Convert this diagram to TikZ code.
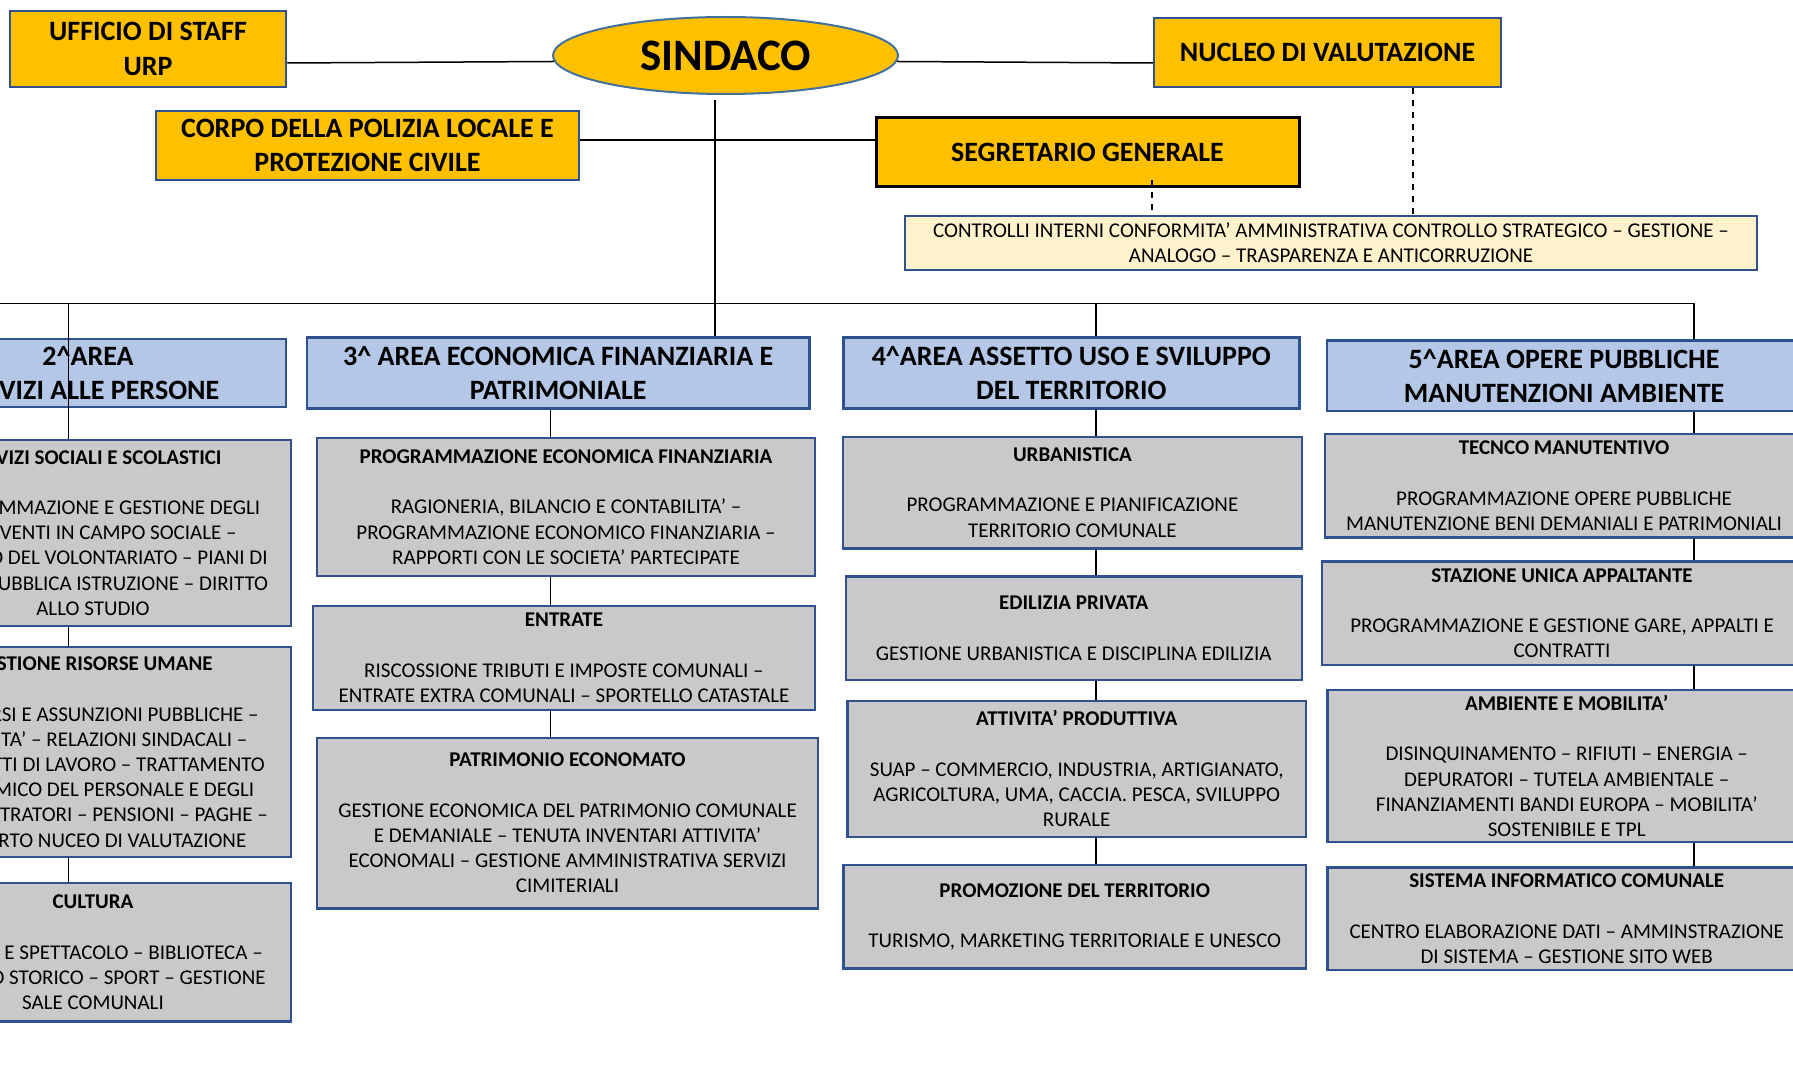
\documentclass[tikz,border=0pt]{standalone}
\usepackage{fontspec}
\setmainfont{Carlito}
\usetikzlibrary{shapes.geometric}
\definecolor{gold}{HTML}{FFC000}
\definecolor{bordo}{HTML}{2F528F}
\definecolor{bordoel}{HTML}{41719C}
\definecolor{areab}{HTML}{B4C7E7}
\definecolor{grigio}{HTML}{C9C9C9}
\definecolor{crema}{HTML}{FFF2CC}
\newcommand{\mytitle}[1]{\textbf{#1}\\[25.2pt]}
\begin{document}
\begin{tikzpicture}[x=1pt,y=-1pt,
  ybox/.style={rectangle, inner sep=0pt, align=center, draw=bordo, fill=gold, line width=2.5pt, font=\bfseries\fontsize{28}{34.5}\selectfont},
  abox/.style={rectangle, inner sep=0pt, align=center, draw=bordo, fill=areab, line width=2.4pt, font=\bfseries\fontsize{28}{33.8}\selectfont},
  sbox/.style={rectangle, inner sep=0pt, align=center, draw=bordo, fill=grigio, line width=2.4pt, font=\fontsize{21}{25.2}\selectfont},
  conn/.style={line width=1.5pt, draw=black},
  dashline/.style={line width=1.5pt, draw=black, dash pattern=on 6pt off 6pt}]
\fill[white] (0,0) rectangle (1793,1078);
\useasboundingbox (0,0) rectangle (1793,1078);

% top level
\node[ybox, minimum width=276pt, minimum height=76pt] (ufficio) at (148,49) {UFFICIO DI STAFF\\URP};
\node[ellipse, draw=bordoel, fill=gold, line width=2pt, inner sep=0pt, minimum width=345pt, minimum height=77pt, font=\bfseries\fontsize{45}{54}\selectfont] (sindaco) at (725.5,55.5) {SINDACO};
\node[ybox, minimum width=347pt, minimum height=69pt] (nucleo) at (1327.5,52.5) {NUCLEO DI VALUTAZIONE};
\node[ybox, minimum width=423pt, minimum height=69pt] (corpo) at (367.5,145.5) {CORPO DELLA POLIZIA LOCALE E\\PROTEZIONE CIVILE};
\node[ybox, draw=black, line width=3pt, minimum width=423pt, minimum height=69pt] (segretario) at (1087.5,152.5) {SEGRETARIO GENERALE};
\node[rectangle, inner sep=0pt, align=center, draw=bordo, fill=crema, line width=2.4pt, font=\fontsize{21}{25.2}\selectfont, minimum width=852pt, minimum height=54pt] (controlli) at (1331,243) {CONTROLLI INTERNI CONFORMITA’ AMMINISTRATIVA CONTROLLO STRATEGICO – GESTIONE –\\ANALOGO – TRASPARENZA E ANTICORRUZIONE};

% areas
\node[abox, minimum width=396pt, minimum height=67.7pt] (a2) at (88,372.9) {2\textasciicircum AREA\\SERVIZI ALLE PERSONE};
\node[abox, minimum width=502.7pt, minimum height=71pt] (a3) at (558.2,372.8) {3\textasciicircum\ AREA ECONOMICA FINANZIARIA E\\PATRIMONIALE};
\node[abox, minimum width=456pt, minimum height=71pt] (a4) at (1071.3,372.8) {4\textasciicircum AREA ASSETTO USO E SVILUPPO\\DEL TERRITORIO};
\node[abox, minimum width=473.7pt, minimum height=70.3pt] (a5) at (1564,375.8) {5\textasciicircum AREA OPERE PUBBLICHE\\MANUTENZIONI AMBIENTE};

% column 2
\node[sbox, minimum width=396pt, minimum height=185.7pt] (s21) at (93,532.9) {\mytitle{SERVIZI SOCIALI E SCOLASTICI}PROGRAMMAZIONE E GESTIONE DEGLI\\INTERVENTI IN CAMPO SOCIALE –\\REGISTRO DEL VOLONTARIATO – PIANI DI\\ZONA – PUBBLICA ISTRUZIONE – DIRITTO\\ALLO STUDIO};
\node[sbox, minimum width=396pt, minimum height=210pt] (s22) at (93,752) {\mytitle{GESTIONE RISORSE UMANE}CONCORSI E ASSUNZIONI PUBBLICHE –\\MOBILITA’ – RELAZIONI SINDACALI –\\CONTRATTI DI LAVORO – TRATTAMENTO\\ECONOMICO DEL PERSONALE E DEGLI\\AMMINISTRATORI – PENSIONI – PAGHE –\\SUPPORTO NUCEO DI VALUTAZIONE};
\node[sbox, minimum width=396pt, minimum height=138.7pt] (s23) at (93,952.3) {\mytitle{CULTURA}FESTIVAL E SPETTACOLO – BIBLIOTECA –\\ARCHIVIO STORICO – SPORT – GESTIONE\\SALE COMUNALI};

% column 3
\node[sbox, minimum width=498pt, minimum height=138pt] (s31) at (566,507) {\mytitle{PROGRAMMAZIONE ECONOMICA FINANZIARIA}RAGIONERIA, BILANCIO E CONTABILITA’ –\\PROGRAMMAZIONE ECONOMICO FINANZIARIA –\\RAPPORTI CON LE SOCIETA’ PARTECIPATE};
\node[sbox, minimum width=502pt, minimum height=104.3pt] (s32) at (564,657.9) {\mytitle{ENTRATE}RISCOSSIONE TRIBUTI E IMPOSTE COMUNALI –\\ENTRATE EXTRA COMUNALI – SPORTELLO CATASTALE};
\node[sbox, minimum width=501pt, minimum height=170.6pt] (s33) at (567.5,823) {\mytitle{PATRIMONIO ECONOMATO}GESTIONE ECONOMICA DEL PATRIMONIO COMUNALE\\E DEMANIALE – TENUTA INVENTARI ATTIVITA’\\ECONOMALI – GESTIONE AMMINISTRATIVA SERVIZI\\CIMITERIALI};

% column 4
\node[sbox, minimum width=458.7pt, minimum height=111.6pt] (s41) at (1072.4,492.5) {\mytitle{URBANISTICA}PROGRAMMAZIONE E PIANIFICAZIONE\\TERRITORIO COMUNALE};
\node[sbox, minimum width=456pt, minimum height=103.3pt] (s42) at (1073.7,628.3) {\mytitle{EDILIZIA PRIVATA}GESTIONE URBANISTICA E DISCIPLINA EDILIZIA};
\node[sbox, minimum width=458.7pt, minimum height=136pt] (s43) at (1076.7,768.7) {\mytitle{ATTIVITA’ PRODUTTIVA}SUAP – COMMERCIO, INDUSTRIA, ARTIGIANATO,\\AGRICOLTURA, UMA, CACCIA. PESCA, SVILUPPO\\RURALE};
\node[sbox, minimum width=462.7pt, minimum height=103.3pt] (s44) at (1074.7,916.7) {\mytitle{PROMOZIONE DEL TERRITORIO}TURISMO, MARKETING TERRITORIALE E UNESCO};

% column 5
\node[sbox, minimum width=478pt, minimum height=103.3pt] (s51) at (1564,485.7) {\mytitle{TECNCO MANUTENTIVO}PROGRAMMAZIONE OPERE PUBBLICHE\\MANUTENZIONE BENI DEMANIALI E PATRIMONIALI};
\node[sbox, minimum width=480pt, minimum height=103.3pt] (s52) at (1562,613.3) {\mytitle{STAZIONE UNICA APPALTANTE}PROGRAMMAZIONE E GESTIONE GARE, APPALTI E\\CONTRATTI};
\node[sbox, minimum width=478.7pt, minimum height=152.3pt] (s53) at (1566.7,766) {\mytitle{AMBIENTE E MOBILITA’}DISINQUINAMENTO – RIFIUTI – ENERGIA –\\DEPURATORI – TUTELA AMBIENTALE –\\FINANZIAMENTI BANDI EUROPA – MOBILITA’\\SOSTENIBILE E TPL};
\node[sbox, minimum width=478.7pt, minimum height=102.7pt] (s54) at (1566.7,918.7) {\mytitle{SISTEMA INFORMATICO COMUNALE}CENTRO ELABORAZIONE DATI – AMMINSTRAZIONE\\DI SISTEMA – GESTIONE SITO WEB};

% top connectors
\draw[conn] ([yshift=-14pt]ufficio.east) -- (sindaco.182.5);
\draw[conn] (sindaco.-2.5) -- ([yshift=-10.5pt]nucleo.west);
\draw[line width=2pt] ([yshift=5.5pt]corpo.east) -- ([yshift=12.5pt]segretario.west);
\coordinate (m0) at ([xshift=-10.5pt]sindaco.south);
\draw[conn] ([yshift=-5pt]m0) -- (m0 |- a3.north);
\coordinate (d1) at ([xshift=64.5pt]segretario.south);
\coordinate (d2) at ([xshift=85.5pt]nucleo.south);
\draw[dashline] ([yshift=8pt]d1) -- (d1 |- controlli.north);
\draw[dashline] (d2) -- (d2 |- controlli.north);

% bus
\coordinate (busL) at (-20,303.5);
\coordinate (c2) at (68.7,303.5);
\coordinate (c4) at (1096,303.5);
\coordinate (c5) at (1694,303.5);
\coordinate (c3) at (550.5,303.5);
\draw[conn] (busL) -- (c5) -- (c5 |- a5.north);
\draw[conn] (c4) -- (c4 |- a4.north);

% column connectors
\draw[conn] (c2) -- (c2 |- s21.north);
\draw[conn] (c2 |- s21.south) -- (c2 |- s22.north);
\draw[conn] (c2 |- s22.south) -- (c2 |- s23.north);
\draw[conn] (c3 |- a3.south) -- (c3 |- s31.north);
\draw[conn] (c3 |- s31.south) -- (c3 |- s32.north);
\draw[conn] (c3 |- s32.south) -- (c3 |- s33.north);
\draw[conn] (c4 |- a4.south) -- (c4 |- s41.north);
\draw[conn] (c4 |- s41.south) -- (c4 |- s42.north);
\draw[conn] (c4 |- s42.south) -- (c4 |- s43.north);
\draw[conn] (c4 |- s43.south) -- (c4 |- s44.north);
\draw[conn] (c5 |- a5.south) -- (c5 |- s51.north);
\draw[conn] (c5 |- s51.south) -- (c5 |- s52.north);
\draw[conn] (c5 |- s52.south) -- (c5 |- s53.north);
\draw[conn] (c5 |- s53.south) -- (c5 |- s54.north);
\end{tikzpicture}
\end{document}
